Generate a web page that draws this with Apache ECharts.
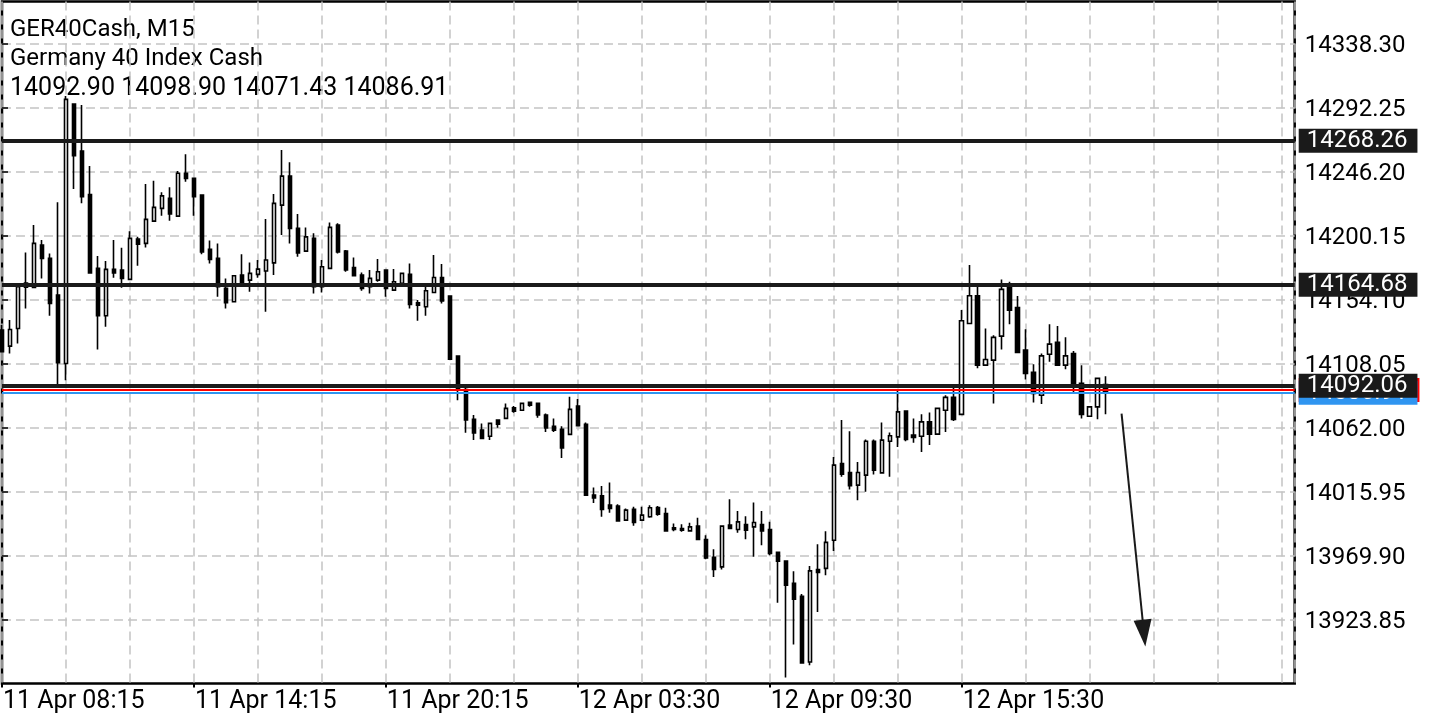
<!DOCTYPE html>
<html><head><meta charset="utf-8">
<script src="https://cdn.jsdelivr.net/npm/echarts@6/dist/echarts.min.js"></script>
<style>html,body{margin:0;padding:0;background:#fff}#c{width:1440px;height:720px}</style>
</head><body><div id="c"></div>
<script>
const headerLines = ['GER40Cash, M15', 'Germany 40 Index Cash'];
const xTickBars = [0, 24, 48, 72, 96, 120];
const xTickLabels = ['11 Apr 08:15', '11 Apr 14:15', '11 Apr 20:15', '12 Apr 03:30', '12 Apr 09:30', '12 Apr 15:30'];
const yTickLabels = ['13923.85', '13969.90', '14015.95', '14062.00', '14108.05', '14154.10', '14200.15', '14246.20', '14292.25', '14338.30'];

const opens = [14132.0,14120.5,14133.2,14162.9,14162.7,14193.2,14183.6,14157.2,14108.0,14294.6,
14260.8,14229.6,14176.4,14142.3,14175.7,14175.2,14168.5,14197.5,14194.4,14210.4,
14219.6,14226.8,14214.0,14244.8,14241.2,14229.1,14190.1,14183.6,14162.0,14152.4,
14171.6,14168.0,14172.1,14174.5,14180.4,14221.9,14242.8,14205.2,14188.8,14198.0,
14163.2,14176.4,14207.6,14188.8,14177.1,14171.6,14163.2,14168.0,14175.2,14160.8,
14165.6,14172.1,14151.7,14148.8,14159.1,14169.9,14156.5,14113.3,14089.3,14067.8,
14060.1,14055.7,14067.3,14068.5,14076.1,14074.4,14080.0,14079.3,14070.9,14062.9,
14060.6,14057.0,14077.3,14064.2,14013.3,14012.8,14006.1,14005.4,13995.3,14003.2,
13995.3,13997.7,14004.4,14000.1,13989.8,13989.3,13987.6,13991.0,13981.4,13968.5,
13961.7,13991.7,13988.6,13992.2,13990.5,13992.2,13988.6,13972.1,13965.8,13949.8,
13940.6,13893.3,13959.8,13960.6,13980.9,14036.1,14029.6,14020.5,14027.7,14052.1,
14029.3,14052.1,14055.2,14073.7,14056.5,14055.7,14066.0,14057.2,14074.4,14083.6,
14071.4,14136.8,14156.7,14106.8,14110.4,14127.7,14163.2,14148.3,14117.6,14101.6,
14085.2,14114.7,14123.2,14106.8,14115.2,14093.7,14070.1,14076.8,14092.90];
const closes = [14116.4,14132.5,14163.2,14165.8,14194.4,14183.6,14151.2,14108.5,14298.0,14257.4,
14227.9,14173.2,14142.3,14175.7,14173.2,14169.2,14198.0,14193.9,14211.7,14220.3,
14228.6,14215.5,14244.8,14241.2,14227.9,14188.3,14182.9,14163.2,14151.7,14171.1,
14165.6,14172.8,14175.9,14182.4,14223.2,14242.8,14205.2,14187.6,14199.1,14163.2,
14177.6,14205.9,14188.3,14175.2,14171.1,14162.0,14169.2,14174.0,14162.0,14166.8,
14172.8,14150.5,14150.0,14160.3,14169.9,14152.9,14111.1,14089.3,14067.3,14058.1,
14054.1,14064.9,14064.4,14075.7,14073.7,14079.3,14078.0,14070.9,14061.7,14060.1,
14047.3,14075.0,14063.2,14013.3,14011.3,14003.0,14003.7,13994.8,14002.5,13993.6,
13998.9,14004.2,13999.6,13987.6,13988.6,13988.1,13990.5,13981.4,13968.2,13959.8,
13991.0,13989.3,13994.1,13988.1,13993.6,13987.6,13971.3,13965.8,13948.5,13938.5,
13892.6,13958.8,13957.7,13979.3,14034.9,14028.4,14020.0,14029.6,14052.1,14031.3,
14052.9,14056.0,14073.2,14053.4,14054.8,14066.0,14057.2,14075.7,14083.6,14067.8,
14138.7,14156.7,14106.8,14110.9,14126.8,14161.3,14146.4,14116.0,14100.9,14086.5,
14113.5,14121.9,14106.8,14113.5,14093.7,14071.4,14076.8,14097.3,14086.91];
const lows = [14116.2,14115.2,14122.4,14147.6,14162.7,14169.2,14142.3,14092.4,14096.0,14233.5,
14223.2,14173.2,14118.1,14134.4,14169.6,14162.4,14168.5,14178.3,14191.5,14210.4,
14214.2,14210.6,14214.0,14238.7,14214.2,14186.5,14180.0,14156.0,14147.6,14152.4,
14165.6,14159.6,14169.6,14145.2,14171.6,14200.4,14194.4,14184.7,14188.8,14158.4,
14159.1,14176.4,14187.2,14174.0,14171.1,14160.3,14158.4,14166.8,14156.0,14160.3,
14165.6,14147.6,14138.7,14142.3,14159.1,14151.2,14111.1,14081.6,14058.1,14052.9,
14054.1,14052.9,14061.7,14068.5,14072.5,14074.4,14076.8,14068.9,14058.8,14058.8,
14040.1,14057.0,14063.2,14012.8,14007.7,13997.7,14000.6,13994.1,13994.8,13991.2,
13995.3,13997.0,13998.4,13987.6,13987.4,13986.9,13986.9,13981.4,13967.2,13954.5,
13959.8,13989.3,13986.2,13981.6,13968.9,13977.3,13970.1,13935.8,13882.1,13905.9,
13892.2,13891.0,13929.3,13955.7,13973.2,14026.5,14017.4,14009.7,14015.7,14028.2,
14028.9,14026.5,14048.0,14052.1,14050.9,14044.4,14049.3,14057.2,14058.8,14066.7,
14071.4,14136.8,14104.5,14106.8,14079.3,14118.1,14136.3,14116.0,14096.5,14080.0,
14078.8,14109.2,14106.3,14103.9,14086.5,14068.5,14070.1,14067.8,14071.43];
const highs = [14135.6,14139.2,14163.7,14187.9,14207.6,14196.8,14187.2,14223.9,14300.4,14294.6,
14293.9,14250.0,14185.3,14181.7,14196.8,14191.2,14203.2,14199.1,14237.1,14239.4,
14231.1,14234.7,14246.4,14258.6,14241.2,14229.1,14196.4,14194.4,14169.2,14171.1,
14186.5,14180.7,14182.4,14211.9,14229.9,14261.5,14252.7,14215.5,14205.9,14201.6,
14182.4,14209.5,14208.8,14189.6,14184.3,14173.5,14175.2,14183.1,14175.2,14175.9,
14173.5,14180.0,14153.6,14163.2,14186.0,14179.5,14156.5,14113.3,14091.2,14070.9,
14064.9,14064.9,14067.3,14079.3,14077.5,14079.3,14080.0,14079.3,14072.1,14068.5,
14062.9,14084.0,14082.4,14065.6,14018.8,14019.8,14022.4,14006.8,14003.7,14004.9,
14004.9,14006.1,14005.4,14004.2,13992.9,13992.4,13993.4,13997.0,13984.5,13974.4,
13991.0,14010.4,14001.8,13998.2,14008.0,14001.8,13994.1,13972.1,13965.8,13958.6,
13942.1,13962.4,13978.0,13987.4,14040.8,14067.3,14059.3,14037.2,14053.4,14053.4,
14065.6,14058.4,14088.3,14073.7,14068.5,14071.4,14072.8,14075.7,14085.2,14091.2,
14146.4,14178.8,14163.2,14133.2,14128.4,14168.5,14166.8,14156.5,14132.7,14107.5,
14115.2,14136.3,14134.9,14126.8,14116.9,14106.8,14076.8,14097.7,14098.90];

const levelLines = [14268.26, 14164.68, 14092.06];
const askPrice = 14088.91;
const arrowFrom = [140, 14072];
const arrowTo = [142.8, 13914];

const last = opens.length - 1;
const bidPrice = closes[last];
const ohlcLine = [opens[last], highs[last], lows[last], closes[last]].map(v => v.toFixed(2)).join(' ');
const candleData = opens.map((o, i) => [i, o, closes[i], lows[i], highs[i]]);
const yTickValues = yTickLabels.map(Number);

const FONT = 'Roboto';
const gridLine = { show: true, lineStyle: { color: '#c4c4c4', width: 1.5, type: [9, 5] } };
const boxLabel = (bg, padR) => ({
  show: true, position: 'end', distance: 4,
  formatter: p => Number(p.value).toFixed(2),
  color: '#fff', backgroundColor: bg, fontSize: 24, fontFamily: FONT,
  lineHeight: 20, padding: [3, padR, 1, 8]
});

const chart = echarts.init(document.getElementById('c'), null, { renderer: 'canvas' });
chart.setOption({
  animation: false,
  backgroundColor: '#fff',
  grid: { left: 1.5, right: 145.3, top: 1.5, bottom: 36.5, show: true, borderColor: '#000', borderWidth: 2.5, backgroundColor: 'transparent' },
  xAxis: [
    { type: 'value', min: 0, max: 161.65, interval: 8,
      axisLine: { show: false }, axisTick: { show: false }, axisLabel: { show: false },
      splitLine: gridLine },
    { type: 'value', min: 0, max: 161.65, interval: 24, position: 'bottom',
      axisLine: { show: false }, splitLine: { show: false },
      axisTick: { show: true, length: 4, lineStyle: { color: '#000', width: 2 }, customValues: xTickBars },
      axisLabel: { show: true, customValues: xTickBars, align: 'left', margin: 6, padding: [0, 0, 0, 1],
        fontSize: 25, fontFamily: FONT, color: '#000',
        formatter: v => { const k = xTickBars.indexOf(Math.round(v)); return k >= 0 && Math.abs(v - xTickBars[k]) < 0.01 ? xTickLabels[k] : ''; } } }
  ],
  yAxis: {
    type: 'value', position: 'right', min: 13877.80, max: 14368.4, interval: 46.05,
    axisLine: { show: false },
    axisTick: { show: true, inside: false, length: 6, lineStyle: { color: '#000', width: 1.5 }, customValues: yTickValues },
    axisLabel: { margin: 10, color: '#000', customValues: yTickValues,
      rich: { v: { fontSize: 24, fontFamily: FONT, color: '#000', padding: [5, 0, 0, 0] } },
      formatter: v => { const k = yTickValues.findIndex(t => Math.abs(t - v) < 0.005); return k >= 0 ? '{v|' + yTickLabels[k] + '}' : ''; } },
    splitLine: gridLine
  },
  graphic: [
    { type: 'text', left: 10, top: 15, silent: true,
      style: { text: headerLines.join('\n'), fontSize: 24, fontFamily: FONT, lineHeight: 29.5, fill: '#000' } },
    { type: 'text', left: 10, top: 74, silent: true,
      style: { text: ohlcLine, fontSize: 25, fontFamily: FONT, lineHeight: 29.5, fill: '#000' } }
  ],
  series: [{
    type: 'candlestick', xAxisIndex: 0, yAxisIndex: 0,
    data: candleData, barWidth: 3.8,
    itemStyle: { color: '#fff', color0: '#000', borderColor: '#000', borderColor0: '#000', borderWidth: 1.6 },
    emphasis: { disabled: true },
    markLine: {
      silent: true, animation: false, symbol: ['none', 'none'], precision: 2,
      emphasis: { disabled: true },
      data: [
        { yAxis: askPrice, lineStyle: { color: '#ff0000', width: 2, type: 'solid' }, label: boxLabel('#ff0000', 12) },
        { yAxis: bidPrice, lineStyle: { color: '#2f95f0', width: 2, type: 'solid' }, label: boxLabel('#2f95f0', 10) },
        { yAxis: levelLines[0], lineStyle: { color: '#1a1a1a', width: 4, type: 'solid' }, label: boxLabel('#1a1a1a', 10) },
        { yAxis: levelLines[1], lineStyle: { color: '#1a1a1a', width: 4, type: 'solid' }, label: boxLabel('#1a1a1a', 10) },
        { yAxis: levelLines[2], lineStyle: { color: '#1a1a1a', width: 4, type: 'solid' }, label: boxLabel('#1a1a1a', 10) },
        [
          { coord: arrowFrom, symbol: 'none', lineStyle: { color: '#1a1a1a', width: 2, type: 'solid' }, label: { show: false } },
          { coord: arrowTo, symbol: 'triangle', symbolSize: [18, 27] }
        ]
      ]
    }
  }]
});
</script></body></html>
